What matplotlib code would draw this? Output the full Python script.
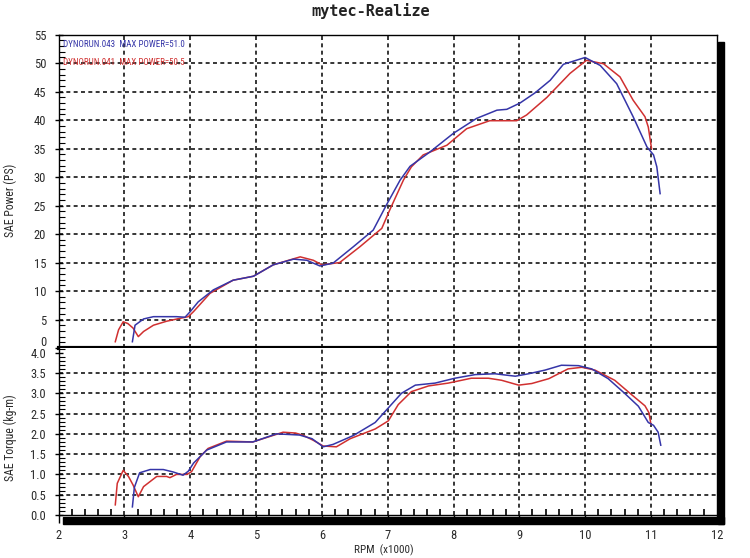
import matplotlib
matplotlib.use("Agg")
import matplotlib.pyplot as plt
from matplotlib import font_manager
from matplotlib.patches import Rectangle
from matplotlib.ticker import MultipleLocator
from matplotlib.transforms import ScaledTranslation

# ---------------- data ----------------
rpm_blue_power = [3.12, 3.16, 3.29, 3.44, 3.79, 3.92, 4.0, 4.12, 4.35, 4.65, 4.96, 5.26, 5.57, 5.77,
                  5.97, 6.17, 6.48, 6.78, 6.98, 7.19, 7.34, 7.64, 8.0, 8.35, 8.66, 8.81, 9.01, 9.24,
                  9.47, 9.67, 10.0, 10.23, 10.48, 10.73, 10.94, 11.04, 11.09, 11.14]
power_blue = [1.1, 4.0, 5.1, 5.5, 5.5, 5.4, 6.4, 8.1, 10.2, 11.9, 12.6, 14.6, 15.6, 15.4,
              14.4, 14.9, 17.8, 20.7, 25.1, 29.5, 31.9, 34.4, 37.7, 40.3, 41.75, 41.9, 43.0, 44.8,
              47.0, 49.8, 51.0, 49.6, 46.4, 40.6, 35.3, 33.9, 31.8, 27.1]

rpm_red_power = [2.86, 2.91, 2.98, 3.05, 3.13, 3.21, 3.29, 3.44, 3.64, 3.84, 3.97, 4.05, 4.3, 4.65,
                 4.96, 5.26, 5.67, 5.87, 6.0, 6.27, 6.58, 6.91, 7.03, 7.24, 7.36, 7.54, 7.9, 8.2,
                 8.55, 8.96, 9.11, 9.42, 9.77, 10.02, 10.28, 10.53, 10.73, 10.91, 10.96, 11.01]
power_red = [1.1, 3.2, 4.6, 4.3, 3.5, 2.0, 2.9, 4.0, 4.7, 5.2, 5.5, 6.4, 9.6, 11.9,
             12.6, 14.6, 16.0, 15.4, 14.6, 15.0, 17.8, 21.0, 24.2, 29.5, 31.8, 33.9, 35.6, 38.5,
             39.9, 39.9, 40.9, 44.0, 48.2, 50.5, 49.9, 47.6, 43.5, 40.6, 38.8, 35.0]

rpm_blue_torque = [3.12, 3.15, 3.23, 3.39, 3.59, 3.74, 3.89, 3.97, 4.05, 4.25, 4.55, 4.95, 5.31,
                   5.66, 5.85, 6.02, 6.17, 6.48, 6.81, 7.01, 7.21, 7.42, 7.72, 8.02, 8.33, 8.63,
                   8.94, 9.14, 9.39, 9.64, 9.9, 10.1, 10.35, 10.6, 10.81, 10.96, 11.04, 11.11, 11.15]
torque_blue = [0.2, 0.68, 1.04, 1.12, 1.12, 1.06, 0.98, 1.08, 1.28, 1.6, 1.8, 1.8, 2.0,
               1.97, 1.88, 1.68, 1.74, 1.96, 2.28, 2.64, 3.0, 3.2, 3.25, 3.37, 3.46, 3.48,
               3.42, 3.48, 3.57, 3.69, 3.68, 3.6, 3.36, 3.0, 2.68, 2.28, 2.21, 2.04, 1.72]

rpm_red_torque = [2.86, 2.89, 2.98, 3.06, 3.13, 3.21, 3.29, 3.49, 3.64, 3.69, 3.79, 3.95, 4.02,
                  4.15, 4.27, 4.55, 4.95, 5.41, 5.6, 5.72, 5.87, 6.02, 6.22, 6.43, 6.81, 7.01,
                  7.16, 7.36, 7.62, 7.92, 8.27, 8.53, 8.73, 8.99, 9.19, 9.45, 9.74, 9.95, 10.15,
                  10.45, 10.71, 10.91, 10.97, 11.0]
torque_red = [0.25, 0.78, 1.1, 0.95, 0.74, 0.45, 0.7, 0.95, 0.95, 0.92, 1.0, 1.0, 1.07,
              1.44, 1.64, 1.82, 1.8, 2.04, 2.02, 1.96, 1.84, 1.70, 1.68, 1.88, 2.12, 2.32,
              2.72, 3.04, 3.18, 3.25, 3.37, 3.37, 3.32, 3.2, 3.24, 3.36, 3.6, 3.64, 3.57,
              3.32, 2.96, 2.69, 2.52, 2.24]

x_ticks = [2, 3, 4, 5, 6, 7, 8, 9, 10, 11, 12]
power_ticks = [0, 5, 10, 15, 20, 25, 30, 35, 40, 45, 50, 55]
torque_ticks = [0.0, 0.5, 1.0, 1.5, 2.0, 2.5, 3.0, 3.5, 4.0]
torque_labels = ["0.0", "0.5", "1.0", "1.5", "2.0", "2.5", "3.0", "3.5", "4.0"]

title = "mytec-Realize"
legend_blue = "DYNORUN.043  MAX POWER=51.0"
legend_red = "DYNORUN.041  MAX POWER=50.5"

# ---------------- style ----------------
names = set(font_manager.get_font_names())
narrow = "DejaVu Sans"
for cand in ["Liberation Sans Narrow", "DejaVu Sans Condensed", "Roboto Condensed", "Open Sans Condensed"]:
    if cand in names:
        narrow = cand
        break

BLUE = "#3535a8"
RED = "#d03030"
TXT = "#2a2a2a"

W, H = 750, 558
fig = plt.figure(figsize=(W / 100, H / 100), dpi=100)
fig.patch.set_facecolor("white")

def fx(px):
    return px / W

def fy(py):
    return 1 - py / H

left_px, right_px = 58.7, 716.7
top_px, mid_px, bot_px = 34.7, 348.0, 515.0

ax1 = fig.add_axes([fx(left_px), fy(mid_px), fx(right_px - left_px), (mid_px - top_px) / H])
ax2 = fig.add_axes([fx(left_px), fy(bot_px), fx(right_px - left_px), (bot_px - mid_px) / H])

dash = (0, (2.6, 2.2))
for ax in (ax1, ax2):
    ax.set_xlim(2, 12)
    for v in x_ticks[1:-1]:
        ax.axvline(v, color="black", lw=1.1, ls=dash, zorder=1)
    for s in ("left", "right", "top", "bottom"):
        ax.spines[s].set_linewidth(1.0)
        ax.spines[s].set_color("black")

ax1.set_ylim(0, 55)
for v in power_ticks[1:-1]:
    ax1.axhline(v, color="black", lw=1.1, ls=dash, zorder=1)
ax2.set_ylim(0, 4.115)
for v in torque_ticks[1:-1]:
    ax2.axhline(v, color="black", lw=1.1, ls=dash, zorder=1)

ax1.spines["bottom"].set_linewidth(3.0)
ax2.spines["top"].set_visible(False)

ax1.plot(rpm_red_power, power_red, color=RED, lw=1.1, zorder=3)
ax1.plot(rpm_blue_power, power_blue, color=BLUE, lw=1.1, zorder=3)
ax2.plot(rpm_red_torque, torque_red, color=RED, lw=1.1, zorder=3)
ax2.plot(rpm_blue_torque, torque_blue, color=BLUE, lw=1.1, zorder=3)

tick_font = dict(family=[narrow, "DejaVu Sans"], size=9)

ax1.set_xticks(x_ticks)
ax1.tick_params(axis="x", which="both", bottom=False, labelbottom=False)
ax1.set_yticks(power_ticks)
ax1.set_yticklabels([str(t) for t in power_ticks], **tick_font, color=TXT)
ax1.yaxis.set_minor_locator(MultipleLocator(1))
ax1.tick_params(axis="y", which="major", direction="inout", length=6, width=1, pad=6)
ax1.tick_params(axis="y", which="minor", direction="in", length=4, width=0.8)
zero_lab = ax1.get_yticklabels()[0]
zero_lab.set_transform(zero_lab.get_transform() + ScaledTranslation(0, 5 / 72, fig.dpi_scale_trans))

ax2.set_xticks(x_ticks)
ax2.set_xticklabels([str(t) for t in x_ticks], **tick_font, color=TXT)
ax2.xaxis.set_minor_locator(MultipleLocator(0.2))
ax2.tick_params(axis="x", which="major", direction="out", length=6, width=1, pad=4)
ax2.tick_params(axis="x", which="minor", direction="in", length=4, width=1.2)
ax2.set_yticks(torque_ticks)
ax2.set_yticklabels(torque_labels, **tick_font, color=TXT)
ax2.yaxis.set_minor_locator(MultipleLocator(0.1))
ax2.tick_params(axis="y", which="major", direction="inout", length=6, width=1, pad=6)
ax2.tick_params(axis="y", which="minor", direction="in", length=4, width=0.8)

# shadow bars
fig.add_artist(Rectangle((fx(717.5), fy(524)), fx(723.8 - 717.5), (524 - 42) / H,
                         transform=fig.transFigure, color="black", zorder=0))
fig.add_artist(Rectangle((fx(63), fy(524)), fx(723.8 - 63), (524 - 516.5) / H,
                         transform=fig.transFigure, color="black", zorder=0))

# texts
fig.text(fx(371), fy(11), title, family="DejaVu Sans Mono", weight="bold", size=11,
         ha="center", va="center", color="#222222")
fig.text(fx(10), fy(200), "SAE Power (PS)", rotation=90, ha="center", va="center",
         family=[narrow, "DejaVu Sans"], size=8.5, color=TXT)
fig.text(fx(10), fy(438), "SAE Torque (kg-m)", rotation=90, ha="center", va="center",
         family=[narrow, "DejaVu Sans"], size=8.5, color=TXT)
fig.text(fx(384), fy(550), "RPM  (x1000)", ha="center", va="center",
         family=[narrow, "DejaVu Sans"], size=8, color=TXT)

ax1.text(0.006, 0.968, legend_blue, transform=ax1.transAxes, color=BLUE, size=6.5,
         family=[narrow, "DejaVu Sans"], va="center", ha="left", zorder=4)
ax1.text(0.006, 0.912, legend_red, transform=ax1.transAxes, color=RED, size=6.5,
         family=[narrow, "DejaVu Sans"], va="center", ha="left", zorder=4)

fig.savefig("out.png", dpi=100)
